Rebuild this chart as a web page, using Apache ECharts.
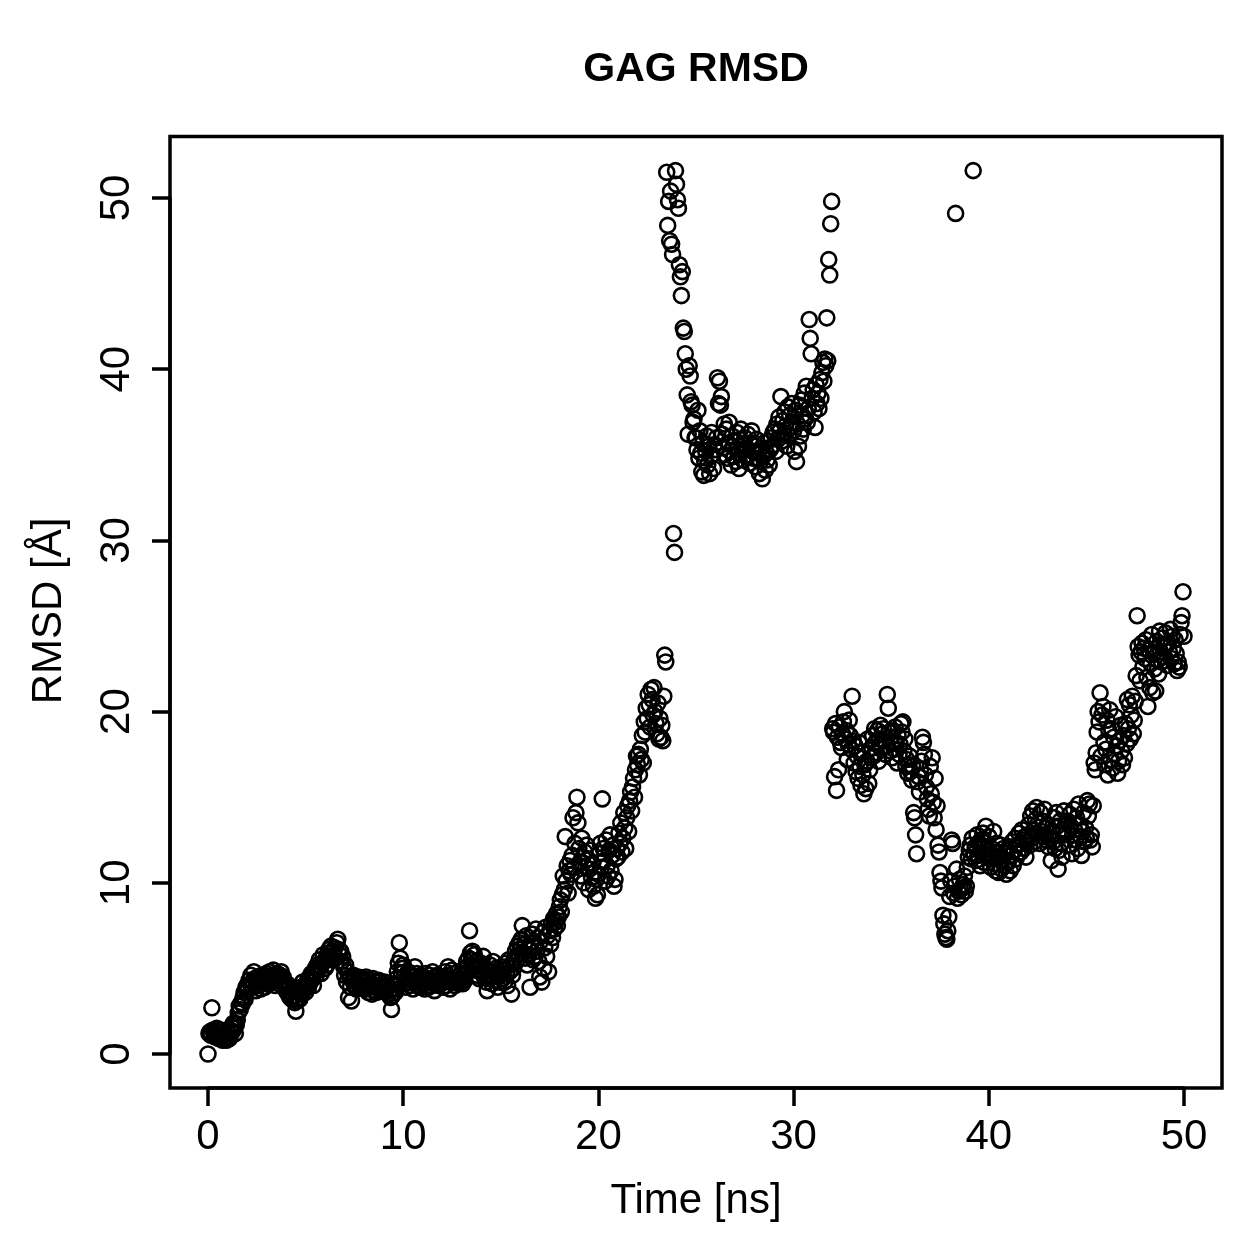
<!DOCTYPE html>
<html>
<head>
<meta charset="utf-8">
<title>GAG RMSD</title>
<script src="https://cdn.jsdelivr.net/npm/echarts@6/dist/echarts.min.js"></script>
<style>
  html, body { margin: 0; padding: 0; background: #fff; }
  #chart { width: 1259px; height: 1259px; }
</style>
</head>
<body>
<div id="chart"></div>
<script>
// RMSD [Å] per frame, one frame every 0.05 ns (20 frames per line = 1 ns)
const timeStep = 0.05;

const rmsd00to05 = [
  0.0, 1.2, 1.3, 1.1, 2.7, 1.4, 1.2, 1.0, 1.3, 1.5, 1.1, 0.9, 1.2, 1.4, 1.0, 0.8, 1.1, 1.3, 0.9, 0.8,
  1.0, 1.2, 0.9, 1.4, 1.6, 1.3, 1.8, 1.5, 1.2, 1.7, 2.0, 2.4, 2.8, 2.6, 3.0, 2.9, 3.3, 3.6, 3.2, 3.9,
  4.0, 3.8, 4.3, 4.1, 4.6, 3.9, 4.2, 4.8, 4.4, 3.7, 4.1, 4.5, 4.0, 4.3, 3.8, 4.6, 4.2, 4.4, 3.9, 4.5,
  4.7, 4.3, 4.1, 4.8, 4.5, 4.2, 4.6, 4.9, 4.4, 4.0, 4.3, 4.7, 4.5, 4.1, 4.6, 4.8, 4.3, 4.5, 4.2, 4.0,
  3.7, 4.1, 3.5, 3.9, 3.3, 3.6, 3.2, 3.8, 3.4, 3.0, 2.5, 3.1, 3.6, 3.3, 3.2, 3.9, 3.5, 4.2, 3.8, 4.0
];
const rmsd05to10 = [
  3.6, 4.1, 4.3, 3.9, 4.5, 4.2, 4.7, 4.4, 4.0, 4.8, 5.0, 4.6, 5.2, 4.9, 5.5, 5.1, 4.7, 5.3, 5.8, 5.4,
  5.0, 5.6, 5.2, 5.9, 6.1, 5.7, 6.3, 5.5, 6.0, 5.8, 6.2, 5.6, 6.5, 6.7, 6.1, 5.8, 6.0, 5.4, 5.7, 5.1,
  4.6, 5.2, 4.2, 4.8, 3.3, 4.5, 3.9, 3.1, 4.3, 4.6, 4.0, 4.4, 3.8, 4.2, 4.5, 4.1, 3.9, 4.3, 4.0, 4.4,
  4.2, 3.8, 4.5, 4.0, 3.6, 4.3, 3.9, 4.1, 3.5, 4.4, 3.7, 4.0, 4.2, 3.6, 3.9, 4.3, 3.8, 4.0, 3.7, 4.1,
  3.9, 4.2, 3.6, 3.8, 4.0, 3.5, 3.7, 3.3, 2.6, 3.4, 3.8, 4.1, 3.6, 4.4, 4.8, 5.3, 6.5, 5.6, 4.7, 5.0
];
const rmsd10to15 = [
  5.2, 4.5, 4.1, 3.9, 4.4, 4.8, 4.2, 4.0, 4.6, 4.3, 3.8, 4.5, 5.1, 4.2, 4.7, 4.0, 4.4, 3.9, 4.6, 4.3,
  4.1, 4.5, 3.8, 4.7, 4.2, 4.4, 3.9, 4.6, 4.0, 4.3, 4.8, 4.1, 3.7, 4.5, 4.2, 4.6, 4.0, 4.4, 4.1, 4.3,
  4.5, 3.9, 4.2, 4.8, 4.0, 4.6, 5.1, 4.3, 3.8, 4.4, 4.9, 4.2, 4.7, 4.0, 4.5, 4.3, 4.8, 4.1, 4.6, 4.2,
  4.4, 4.1, 4.6, 4.3, 5.0, 5.4, 4.8, 5.6, 7.2, 5.9, 5.5, 6.0, 5.2, 5.8, 4.9, 5.4, 4.6, 5.1, 4.4, 4.8,
  5.3, 4.7, 5.7, 4.5, 5.0, 4.2, 3.7, 4.9, 4.4, 5.2, 4.6, 4.1, 5.4, 4.8, 4.3, 5.0, 4.5, 3.9, 4.7, 4.2
];
const rmsd15to20 = [
  4.6, 5.1, 4.4, 4.9, 4.2, 5.3, 4.7, 4.0, 5.5, 4.8, 5.2, 3.5, 4.6, 5.0, 5.6, 6.0, 5.4, 6.3, 5.8, 6.5,
  6.1, 6.7, 7.5, 5.9, 6.4, 5.6, 6.9, 5.2, 6.2, 5.8, 3.9, 6.5, 7.0, 5.5, 6.3, 5.7, 7.3, 6.0, 6.8, 5.4,
  4.5, 6.6, 4.2, 7.1, 5.0, 6.2, 7.4, 5.7, 6.9, 4.8, 7.2, 6.4, 7.6, 6.8, 7.9, 7.3, 7.7, 8.2, 7.5, 8.0,
  8.6, 9.0, 8.3, 9.3, 10.4, 9.6, 12.7, 10.1, 11.0, 9.4, 10.7, 11.3, 10.5, 11.6, 13.8, 10.9, 12.3, 14.1, 15.0, 13.5,
  12.0, 11.2, 10.4, 12.6, 11.5, 10.0, 11.8, 10.9, 12.2, 11.4, 9.6, 10.8, 11.9, 10.3, 11.1, 9.8, 10.6, 9.1, 10.2, 9.3
];
const rmsd20to25 = [
  10.5, 11.7, 12.3, 10.9, 14.9, 12.0, 11.3, 10.1, 12.5, 11.0, 10.4, 11.9, 12.8, 10.7, 11.6, 12.2, 9.8, 10.2, 11.4, 12.0,
  11.5, 12.9, 12.3, 13.5, 11.8, 12.6, 14.1, 13.2, 12.0, 13.8, 14.5, 13.0, 14.8, 15.3, 14.2, 15.6, 16.1, 15.0, 16.6, 17.4,
  16.9, 17.5, 16.3, 17.8, 17.2, 18.6, 17.0, 19.4, 18.8, 20.2, 19.6, 21.0, 20.4, 19.1, 21.3, 20.7, 19.8, 21.4, 20.0, 19.3,
  18.7, 20.5, 18.4, 19.6, 18.5, 19.2, 18.3, 20.9, 23.3, 22.9, 51.5, 48.4, 49.8, 47.5, 50.4, 47.3, 46.7, 30.4, 29.3, 51.6,
  50.8, 49.9, 49.4, 46.1, 45.4, 44.3, 45.7, 42.4, 42.2, 40.9, 40.0, 38.5, 36.2, 40.2, 39.6, 38.1, 37.9, 36.9, 37.1, 36.0
];
const rmsd25to30 = [
  36.0, 35.3, 37.6, 34.8, 36.4, 35.1, 34.0, 35.7, 33.8, 34.6, 35.2, 36.1, 34.4, 35.5, 33.9, 34.9, 36.3, 35.0, 34.2, 35.6,
  35.3, 36.0, 39.5, 38.0, 39.3, 37.9, 38.4, 36.2, 35.4, 36.8, 35.0, 36.5, 34.8, 35.7, 36.9, 35.2, 34.4, 36.1, 35.5, 34.9,
  35.8, 34.6, 36.3, 35.1, 34.2, 35.9, 36.5, 35.3, 34.7, 35.6, 36.0, 34.9, 35.4, 36.2, 35.0, 34.5, 35.7, 36.4, 35.2, 34.8,
  35.5, 34.3, 35.9, 34.8, 35.2, 33.9, 34.6, 35.4, 33.6, 34.9, 35.7, 34.1, 35.1, 34.7, 35.8, 34.4, 35.3, 36.0, 35.5, 36.3,
  35.6, 36.5, 35.2, 36.8, 35.9, 37.2, 36.4, 38.4, 35.8, 37.0, 36.2, 37.5, 36.7, 35.5, 37.8, 36.1, 37.3, 36.6, 38.0, 36.9
];
const rmsd30to35 = [
  36.4, 35.2, 37.6, 34.6, 36.8, 35.5, 37.9, 36.1, 38.2, 37.3, 36.5, 38.6, 37.1, 39.0, 36.9, 37.7, 42.9, 41.8, 40.9, 38.3,
  38.8, 37.5, 36.6, 39.1, 38.0, 38.6, 37.7, 39.4, 38.3, 39.8, 40.4, 39.3, 40.6, 40.2, 43.0, 40.5, 46.4, 45.5, 48.5, 49.8,
  19.0, 18.8, 16.2, 19.3, 15.4, 18.5, 16.6, 19.1, 18.2, 17.9, 18.7, 19.4, 20.0, 18.4, 18.9, 17.2, 18.1, 19.5, 18.6, 17.8,
  20.9, 18.3, 17.0, 18.0, 16.5, 17.4, 16.1, 18.2, 16.8, 15.7, 17.6, 16.3, 15.2, 16.9, 15.5, 17.1, 18.4, 15.8, 16.6, 17.3,
  17.9, 18.6, 17.4, 19.0, 18.2, 17.6, 18.9, 17.1, 18.4, 19.2, 17.8, 18.7, 19.0, 18.3, 17.5, 18.0, 21.0, 20.2, 18.8, 17.7
];
const rmsd35to40 = [
  18.5, 17.3, 18.9, 17.8, 19.1, 18.2, 17.0, 18.6, 17.5, 18.1, 19.3, 18.8, 19.4, 17.7, 18.4, 16.8, 17.2, 16.4, 16.9, 17.4,
  16.5, 16.0, 16.8, 14.1, 13.8, 12.8, 11.7, 15.9, 16.2, 15.3, 16.6, 17.1, 18.5, 18.2, 17.5, 16.3, 15.6, 14.9, 14.3, 13.9,
  16.8, 15.2, 17.3, 14.7, 13.8, 16.1, 13.1, 14.5, 12.2, 11.8, 10.6, 10.1, 9.7, 8.1, 7.6, 7.0, 6.8, 6.7, 7.2, 8.0,
  9.2, 10.1, 12.5, 12.3, 9.4, 9.8, 49.1, 10.8, 9.1, 9.5, 10.2, 9.6, 9.3, 9.7, 9.9, 10.4, 9.5, 9.8, 10.9, 11.5,
  11.9, 12.2, 11.4, 12.6, 51.6, 11.7, 12.1, 11.3, 12.8, 11.6, 12.3, 11.0, 12.5, 11.8, 12.9, 11.2, 12.4, 13.3, 12.0, 11.5
];
const rmsd40to45 = [
  12.7, 11.4, 10.9, 12.0, 11.6, 13.0, 11.1, 10.7, 12.3, 11.8, 10.6, 11.5, 12.2, 10.8, 11.3, 12.0, 11.0, 11.7, 10.5, 11.9,
  11.2, 12.1, 10.7, 11.6, 12.4, 11.0, 11.9, 12.6, 11.4, 12.2, 11.7, 12.9, 12.3, 11.8, 13.1, 12.5, 12.0, 12.7, 11.5, 12.4,
  12.8, 13.4, 12.2, 13.9, 12.6, 14.2, 13.1, 12.4, 13.7, 14.4, 12.9, 13.5, 12.3, 14.1, 13.0, 13.6, 12.7, 14.3, 13.2, 12.5,
  13.4, 12.1, 12.9, 12.6, 11.3, 13.0, 12.4, 13.8, 12.0, 14.1, 13.3, 10.8, 11.9, 13.6, 12.3, 11.5, 13.1, 14.2, 12.8, 13.5,
  12.9, 13.6, 12.2, 14.0, 13.3, 11.7, 12.8, 14.3, 13.1, 12.5, 13.8, 12.0, 14.6, 13.4, 12.7, 11.6, 13.0, 14.1, 12.4, 13.2
];
const rmsd45to50 = [
  12.6, 14.8, 13.9, 14.6, 12.5, 12.8, 12.1, 14.5, 17.0, 16.6, 17.6, 18.8, 20.0, 19.4, 21.1, 17.4, 19.8, 20.3, 18.2, 16.9,
  17.8, 19.5, 16.3, 18.9, 20.1, 17.2, 19.0, 16.7, 18.5, 17.5, 19.7, 18.0, 16.4, 17.1, 18.3, 19.2, 17.7, 16.9, 18.6, 17.3,
  19.3, 18.1, 20.7, 19.0, 20.4, 18.4, 19.8, 20.9, 18.7, 19.5, 20.6, 22.1, 25.6, 23.8, 23.3, 21.8, 23.5, 24.0, 22.6, 23.7,
  23.1, 24.2, 22.0, 20.3, 23.6, 21.4, 22.8, 24.5, 21.1, 23.4, 22.5, 21.2, 24.1, 23.0, 22.2, 24.7, 23.5, 22.9, 24.3, 23.8,
  23.2, 24.6, 23.9, 22.7, 24.0, 23.5, 24.8, 23.1, 24.4, 23.7, 22.8, 24.2, 23.4, 22.4, 22.9, 22.6, 24.5, 25.2, 25.6, 27.0,
  24.4
];

const xTicks = [0, 10, 20, 30, 40, 50];
const yTicks = [0, 10, 20, 30, 40, 50];

const FONT = '"Liberation Sans", Arial, Helvetica, sans-serif';

const rmsd = [].concat(rmsd00to05, rmsd05to10, rmsd10to15, rmsd15to20, rmsd20to25,
  rmsd25to30, rmsd30to35, rmsd35to40, rmsd40to45, rmsd45to50);
const points = rmsd.map((v, i) => [+(i * timeStep).toFixed(2), v]);

const chart = echarts.init(document.getElementById('chart'), null, { renderer: 'canvas' });

const axisCommon = {
  type: 'value',
  interval: 10,
  axisLine: { show: true, onZero: false, lineStyle: { color: '#000', width: 3.5 } },
  axisTick: { show: true, inside: false, length: 18, lineStyle: { color: '#000', width: 3.5 } },
  splitLine: { show: false },
  axisLabel: { color: '#000', fontSize: 42, fontFamily: FONT, showMinLabel: true, showMaxLabel: true }
};

chart.setOption({
  animation: false,
  backgroundColor: '#fff',
  textStyle: { fontFamily: FONT },
  grid: { left: 208, top: 198, width: 976, height: 856, containLabel: false },
  xAxis: Object.assign({}, axisCommon, {
    min: xTicks[0], max: xTicks[xTicks.length - 1], offset: 34,
    axisLabel: Object.assign({}, axisCommon.axisLabel, { margin: 28 })
  }),
  yAxis: Object.assign({}, axisCommon, {
    min: yTicks[0], max: yTicks[yTicks.length - 1], offset: 38,
    axisLabel: Object.assign({}, axisCommon.axisLabel, { rotate: 90, margin: 32 })
  }),
  series: [{
    type: 'scatter',
    data: points,
    symbol: 'circle',
    symbolSize: 15,
    clip: false,
    silent: true,
    itemStyle: { color: 'rgba(0,0,0,0)', borderColor: '#000', borderWidth: 2.6, opacity: 1 }
  }],
  graphic: [
    {
      type: 'rect', z: 10, silent: true,
      shape: { x: 170, y: 136.5, width: 1052, height: 951.5 },
      style: { fill: 'none', stroke: '#000', lineWidth: 3.5 }
    },
    {
      type: 'text', x: 696, y: 70, silent: true,
      style: { text: 'GAG RMSD', fontSize: 41, fontWeight: 'bold', fontFamily: FONT, fill: '#000', align: 'center', verticalAlign: 'middle' }
    },
    {
      type: 'text', x: 696, y: 1201, silent: true,
      style: { text: 'Time [ns]', fontSize: 42, fontFamily: FONT, fill: '#000', align: 'center', verticalAlign: 'middle' }
    },
    {
      type: 'text', x: 49, y: 611, rotation: Math.PI / 2, silent: true,
      style: { text: 'RMSD [Å]', fontSize: 42, fontFamily: FONT, fill: '#000', align: 'center', verticalAlign: 'middle' }
    }
  ]
});
</script>
</body>
</html>
